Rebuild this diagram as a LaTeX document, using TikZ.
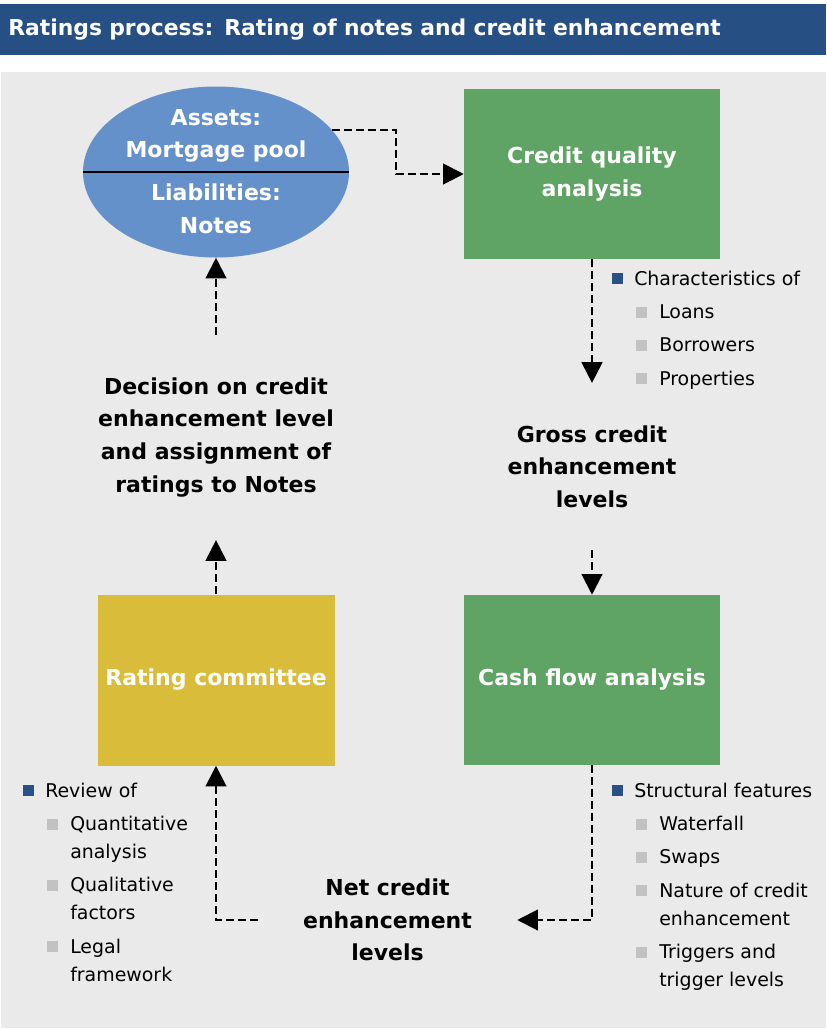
\documentclass[tikz,border=0pt]{standalone}
\usepackage{fontspec}
\setmainfont{DejaVu Sans}
\usepackage{tikz}
\usetikzlibrary{shapes,arrows.meta,positioning}

\definecolor{titleblue}{HTML}{264F83}
\definecolor{bggray}{HTML}{EAEAEA}
\definecolor{boxgreen}{HTML}{5FA464}
\definecolor{boxyellow}{HTML}{D8BC3A}
\definecolor{poolblue}{HTML}{6591CB}
\definecolor{bulletblue}{HTML}{2A5089}
\definecolor{bulletgray}{HTML}{C2C2C2}

\newcommand{\bsq}{\textcolor{bulletblue}{\rule[1pt]{8.25pt}{8.25pt}}}
\newcommand{\gsq}{\textcolor{bulletgray}{\rule[0.5pt]{8.25pt}{8.25pt}}}
\newcommand{\topitem}[1]{\multicolumn{2}{@{}l@{}}{\makebox[16.5pt][l]{\bsq}#1}}
\newcommand{\subpt}{\makebox[35.25pt][l]{\hspace*{18pt}\gsq}}

\tikzstyle{titlebar} = [rectangle, fill=titleblue, text=white, font=\bfseries\fontsize{16.4}{19}\selectfont,
minimum width=619.5pt, minimum height=38.25pt, text width=607.5pt, inner xsep=6pt, align=left]
\tikzstyle{block} = [rectangle, fill=boxgreen, text=white, font=\bfseries\fontsize{16.5}{24.5}\selectfont,
align=center, minimum width=192pt, minimum height=127.5pt, inner sep=0pt]
\tikzstyle{pool} = [ellipse, fill=poolblue, minimum width=199.5pt, minimum height=128.25pt, inner sep=0pt]
\tikzstyle{pooltext} = [text=white, font=\bfseries\fontsize{16.5}{24.5}\selectfont, align=center]
\tikzstyle{result} = [font=\bfseries\fontsize{16.5}{24.5}\selectfont, align=center, inner sep=0pt]
\tikzstyle{list} = [anchor=base west, inner sep=0pt, font=\fontsize{14.2}{21}\selectfont]
\tikzstyle{line} = [draw, line width=1.6pt, dash pattern=on 6pt off 3pt, -{Triangle[length=15.5pt,width=15.5pt]}]

\begin{document}
\begin{tikzpicture}[x=0.75pt, y=-0.75pt]
	% Background and title
	\useasboundingbox (0,0) rectangle (826,1029);
	\fill[bggray] (1,72) rectangle (826,1028);
	\node [titlebar, anchor=north west] (title) at (0,4) {Ratings process: Rating of notes and credit enhancement};

	% Place nodes
	\node [pool] (pool) at (216,172) {};
	\node [pooltext] (assets) at (216,136) {Assets:\\Mortgage pool};
	\node [pooltext] (liab) at (216,209) {Liabilities:\\Notes};
	\draw [line width=1.1pt] (pool.west) -- (pool.east);

	\node [block, right of=pool, node distance=282pt, yshift=-1.5pt] (credit) {Credit quality\\analysis};
	\node [result, below of=credit, node distance=219.5pt, minimum height=125.25pt] (gross) {Gross credit\\enhancement\\levels};
	\node [block, below of=credit, node distance=379.5pt] (cashflow) {Cash flow analysis};
	\node [block, fill=boxyellow, left of=cashflow, node distance=282pt, minimum width=177.75pt, minimum height=128.25pt] (committee) {Rating committee};
	\node [result, minimum width=194.25pt] (net) at (387.5,920) {Net credit\\enhancement\\levels};
	\node [result, above of=committee, node distance=182pt, minimum height=153.75pt] (decision) {Decision on credit\\enhancement level\\and assignment of\\ratings to Notes};

	% Bullet lists
	\node [list] (charlist) at (612,285) {\begin{tabular}[t]{@{}l@{}l@{}}
		\topitem{Characteristics of}\\[4pt]
		\subpt & Loans\\[4pt]
		\subpt & Borrowers\\[4pt]
		\subpt & Properties
	\end{tabular}};
	\node [list] (structlist) at (612,797) {\begin{tabular}[t]{@{}l@{}l@{}}
		\topitem{Structural features}\\[4pt]
		\subpt & Waterfall\\[4pt]
		\subpt & Swaps\\[4pt]
		\subpt & Nature of credit\\
		& enhancement\\[4pt]
		\subpt & Triggers and\\
		& trigger levels
	\end{tabular}};
	\node [list] (reviewlist) at (23,797) {\begin{tabular}[t]{@{}l@{}l@{}}
		\topitem{Review of}\\[4pt]
		\subpt & Quantitative\\
		& analysis\\[4pt]
		\subpt & Qualitative\\
		& factors\\[4pt]
		\subpt & Legal\\
		& framework
	\end{tabular}};

	% Connectors
	\path [line] (pool.20) -- ++(64,0) |- (credit.west);
	\path [line] (credit) -- (gross);
	\path [line] (gross) -- (cashflow);
	\path [line] (cashflow.south) |- (net.east);
	\path [line] (net.west) -| (committee.south);
	\path [line] (committee) -- (decision);
	\path [line] (decision) -- (pool);
\end{tikzpicture}
\end{document}
